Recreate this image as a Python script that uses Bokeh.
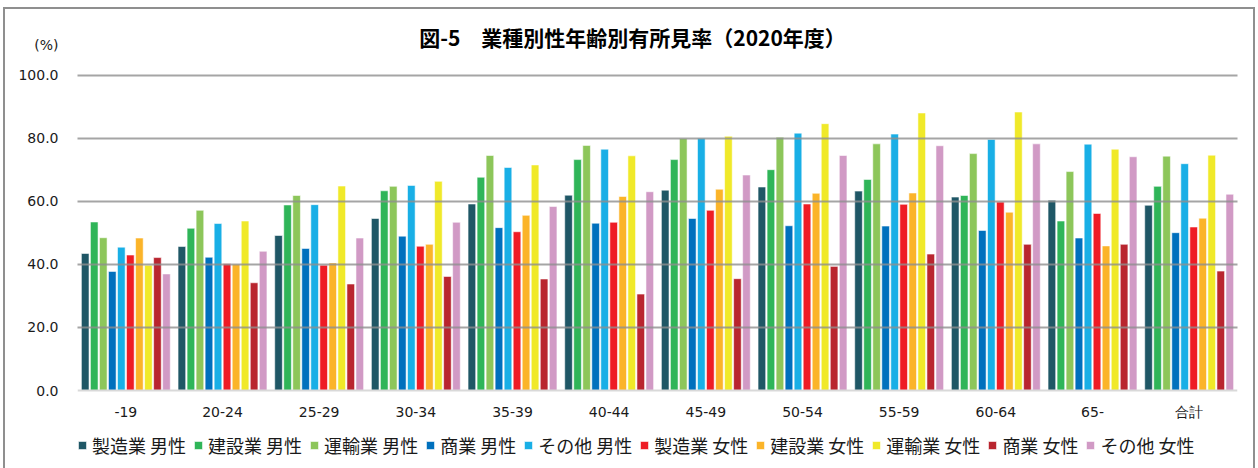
from bokeh.plotting import figure
from bokeh.models import (ColumnDataSource, FactorRange, Range1d, Legend, LegendItem,
                          Label, FixedTicker, NumeralTickFormatter)
from bokeh.transform import dodge
from bokeh.embed import file_html
from bokeh.resources import INLINE

# ---- data ----
groups = ["-19", "20-24", "25-29", "30-34", "35-39", "40-44", "45-49",
          "50-54", "55-59", "60-64", "65-", "合計"]

series_names = ["製造業 男性", "建設業 男性", "運輸業 男性", "商業 男性", "その他 男性",
                "製造業 女性", "建設業 女性", "運輸業 女性", "商業 女性", "その他 女性"]

mfg_m = [43.5, 45.7, 49.2, 54.6, 59.2, 62.0, 63.6, 64.6, 63.3, 61.4, 60.4, 58.8]
con_m = [53.5, 51.5, 58.9, 63.4, 67.7, 73.3, 73.3, 70.1, 67.0, 61.9, 53.8, 64.8]
trn_m = [48.5, 57.2, 61.9, 64.8, 74.6, 77.8, 80.0, 80.4, 78.3, 75.2, 69.5, 74.4]
com_m = [37.8, 42.3, 45.1, 49.0, 51.7, 53.1, 54.6, 52.3, 52.2, 50.8, 48.4, 50.1]
oth_m = [45.5, 53.0, 59.0, 65.1, 70.8, 76.6, 80.1, 81.7, 81.4, 79.7, 78.2, 72.0]
mfg_f = [43.0, 40.2, 39.8, 45.8, 50.4, 53.4, 57.2, 59.2, 59.1, 59.8, 56.2, 51.9]
con_f = [48.4, 40.1, 40.5, 46.4, 55.6, 61.6, 63.9, 62.6, 62.7, 56.6, 45.9, 54.7]
trn_f = [39.8, 53.8, 64.9, 66.4, 71.6, 74.5, 80.7, 84.7, 88.1, 88.4, 76.6, 74.7]
com_f = [42.2, 34.2, 33.8, 36.2, 35.4, 30.6, 35.5, 39.4, 43.3, 46.4, 46.4, 37.9]
oth_f = [37.0, 44.2, 48.4, 53.4, 58.4, 63.1, 68.4, 74.6, 77.7, 78.3, 74.2, 62.3]

y_ticks = [0, 20, 40, 60, 80, 100]
grid_ticks = [20, 40, 60, 80, 100]
unit_label = "(%)"
title_text = "図-5　業種別性年齢別有所見率（2020年度）"

colors = ["#1F5766", "#2FB558", "#8DC65A", "#0070BD", "#19AFE6",
          "#EE1C25", "#FBB429", "#F0E929", "#B9252F", "#D19AC5"]

series_values = [mfg_m, con_m, trn_m, com_m, oth_m, mfg_f, con_f, trn_f, com_f, oth_f]
keys = ["s%d" % i for i in range(10)]

data = {"group": groups}
for k, v in zip(keys, series_values):
    data[k] = v
source = ColumnDataSource(data)

# outer chart-area border drawn over the canvas
frame_css = (":host { position: relative; } "
             ":host::after { content: ''; position: absolute; left: 3px; top: 7px; "
             "right: 3px; bottom: 0px; border: 2px solid #8f8f8f; border-bottom: none; "
             "pointer-events: none; z-index: 50; }")

# frame: x 77..1237, y 10..468 ; value 100 -> y=75, 0 -> y=390 (3.15 px per unit)
Y_TOP = 120.63
Y_BOTTOM = -24.76
p = figure(x_range=FactorRange(factors=groups, range_padding=0, factor_padding=0),
           y_range=Range1d(Y_BOTTOM, Y_TOP),
           width=1258, height=468,
           output_backend="svg", toolbar_location=None,
           min_border_left=77, min_border_right=21, min_border_top=10, min_border_bottom=0,
           background_fill_color="white", border_fill_color="white",
           outline_line_color=None,
           stylesheets=[frame_css])

step = 0.0934
renderers = []
for i, (k, c) in enumerate(zip(keys, colors)):
    r = p.vbar(x=dodge("group", (i - 4.5) * step, range=p.x_range), top=k, bottom=0,
               width=0.079, source=source, fill_color=c,
               line_color="white", line_width=1, line_alpha=0.55)
    renderers.append(r)

# axes
unit_pos = 109.8
p.yaxis.ticker = FixedTicker(ticks=y_ticks + [unit_pos])
p.yaxis.formatter = NumeralTickFormatter(format="0.0")
p.yaxis.major_label_overrides = {unit_pos: unit_label}
p.yaxis.axis_line_color = None
p.yaxis.major_tick_line_color = None
p.yaxis.minor_tick_line_color = None
p.yaxis.major_label_standoff = 13
p.yaxis.major_label_text_font = "DejaVu Sans"
p.yaxis.major_label_text_font_size = "14px"
p.yaxis.major_label_text_color = "#1a1a1a"

p.xaxis.fixed_location = 0
p.xaxis.axis_line_color = "#d9d9d9"
p.xaxis.axis_line_width = 2
p.xaxis.major_tick_line_color = None
p.xaxis.minor_tick_line_color = None
p.xaxis.major_label_standoff = 7
p.xaxis.major_label_text_font = "DejaVu Sans"
p.xaxis.major_label_text_font_size = "14px"
p.xaxis.major_label_text_color = "#1a1a1a"

p.xgrid.grid_line_color = None
p.ygrid.ticker = FixedTicker(ticks=grid_ticks)
p.ygrid.grid_line_color = "#8f8f8f"
p.ygrid.grid_line_width = 2
p.ygrid.grid_line_alpha = 0.8
p.ygrid.level = "overlay"

# title (inside the extended frame)
p.add_layout(Label(x=555, y=112.06, x_units="screen", y_units="data",
                   text=title_text,
                   text_align="center", text_baseline="middle",
                   text_font="Noto Sans CJK JP", text_font_style="bold",
                   text_font_size="21px", text_color="#000000"))

legend = Legend(items=[LegendItem(label=n, renderers=[r]) for n, r in zip(series_names, renderers)],
                orientation="horizontal", location=(0, 10),
                glyph_width=10, glyph_height=10, label_standoff=5, spacing=7,
                padding=2, margin=0, border_line_color=None, background_fill_alpha=0,
                label_text_font="Noto Sans CJK JP", label_text_font_size="18px",
                label_text_color="#1a1a1a")
p.add_layout(legend)

open("out.html", "w").write(file_html(p, INLINE))
